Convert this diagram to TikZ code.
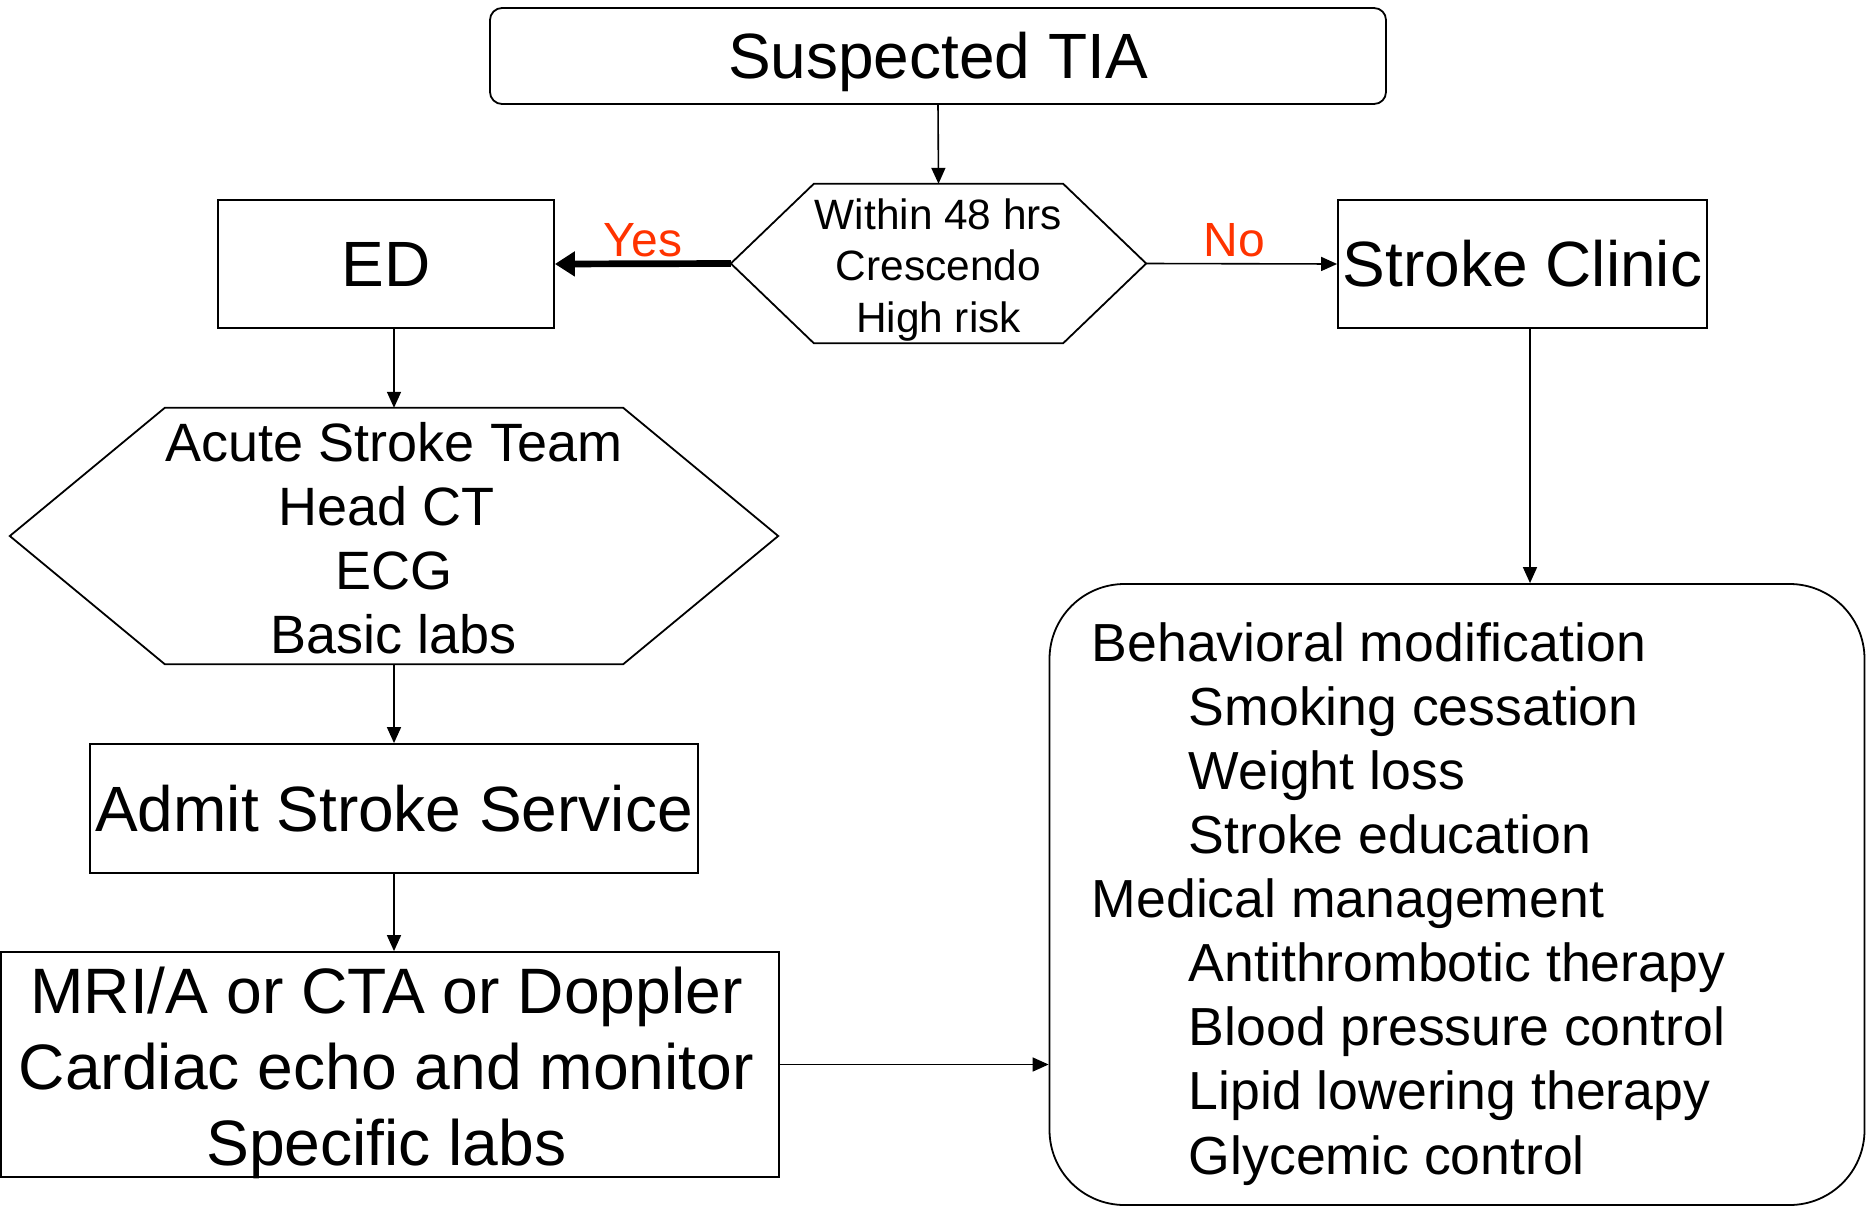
\documentclass[tikz,border=0pt]{standalone}
\usepackage{fontspec}
\setmainfont{Liberation Sans}
\usetikzlibrary{arrows.meta}
\definecolor{yesno}{RGB}{255,51,0}
\begin{document}
\begin{tikzpicture}[x=1pt,y=-1pt,
  box/.style={draw, line width=1.8pt, inner sep=0pt},
  big/.style={font=\fontsize{64}{76.8}\selectfont, text height=45.8pt, text depth=0pt},
  mid/.style={font=\fontsize{53.6}{64.1}\selectfont},
  small/.style={font=\fontsize{42.4}{51.3}\selectfont},
  hexline/.style={line width=1.8pt},
  arr/.style={line width=1.6pt, -{Triangle[length=16pt,width=14pt]}},
  thickarr/.style={line width=6.7pt, -{Triangle[length=20pt,width=24pt]}},
  lbl/.style={text=yesno, font=\fontsize{48}{57}\selectfont, anchor=base, yshift=7pt, inner sep=0pt}]
\useasboundingbox (0,0) rectangle (1867,1207);

% top
\node[box, rounded corners=12pt, minimum width=896pt, minimum height=96pt, big] (tia) at (938,56) {Suspected TIA};

% decision hexagon
\node[inner sep=0pt, minimum width=415pt, minimum height=159pt] (hexa) at (938.5,263.5) {};
\draw[hexline] (hexa.west) -- ([xshift=83pt]hexa.north west) -- ([xshift=-83pt]hexa.north east)
  -- (hexa.east) -- ([xshift=-83pt]hexa.south east) -- ([xshift=83pt]hexa.south west) -- cycle;
\node[small, align=center] (hexatext) at (938.5,270) {Within 48 hrs\\Crescendo\\High risk};

\node[box, minimum width=336pt, minimum height=128pt, big] (ed) at (386,264) {ED};
\node[box, minimum width=369pt, minimum height=128pt, big] (sc) at (1522.5,264) {Stroke Clinic};

% acute hexagon
\node[inner sep=0pt, minimum width=768pt, minimum height=256pt] (hexb) at (394,536) {};
\draw[hexline] (hexb.west) -- ([xshift=155pt]hexb.north west) -- ([xshift=-155pt]hexb.north east)
  -- (hexb.east) -- ([xshift=-155pt]hexb.south east) -- ([xshift=155pt]hexb.south west) -- cycle;
\node[font=\fontsize{54}{64}\selectfont, align=center] (hexbtext) at (394,538.6)
  {Acute Stroke Team\\Head CT\rule{15pt}{0pt}\\ECG\\Basic labs};

\node[box, minimum width=608pt, minimum height=129pt, big] (admit) at (394,808.5) {Admit Stroke Service};

\node[box, minimum width=778pt, minimum height=225pt] (mri) at (390,1064.5) {};
\node[font=\fontsize{64.2}{76}\selectfont, align=center] (mritext) at (386.4,1073)
  {MRI/A or CTA or Doppler\\Cardiac echo and monitor\\Specific labs};

\node[box, rounded corners=75pt, minimum width=815pt, minimum height=621pt] (mgmt) at (1457,894.5) {};
\node[mid, align=left, anchor=west, inner sep=0pt] (mgmttext) at (1091.6,903.8)
  {Behavioral modification\\
   \hspace*{97pt}Smoking cessation\\
   \hspace*{97pt}Weight loss\\
   \hspace*{97pt}Stroke education\\
   Medical management\\
   \hspace*{97pt}Antithrombotic therapy\\
   \hspace*{97pt}Blood pressure control\\
   \hspace*{97pt}Lipid lowering therapy\\
   \hspace*{97pt}Glycemic control};

% connectors
\draw[arr] (tia.south) -- (hexa.north);
\draw[thickarr] (hexa.west) -- node[lbl]{Yes} (ed.east);
\draw[arr] (hexa.east) -- node[lbl, pos=0.46]{No} (sc.west);
\draw[arr] (hexb.north |- ed.south) -- (hexb.north);
\draw[arr] (hexb.south) -- (admit.north);
\draw[arr] (admit.south) -- (admit.south |- mri.north);
\draw[arr] (mri.east) -- (mri.east -| mgmt.west);
\draw[arr] ([xshift=7.5pt]sc.south) -- ([xshift=7.5pt]sc.south |- mgmt.north);
\end{tikzpicture}
\end{document}
